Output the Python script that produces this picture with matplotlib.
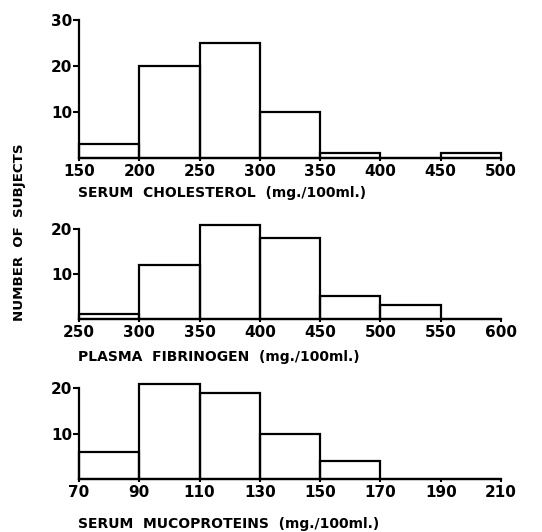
import matplotlib
matplotlib.use("Agg")
import matplotlib.pyplot as plt
import numpy as np

plt.rcParams['font.family'] = ['DejaVu Sans']
plt.rcParams['font.weight'] = 'bold'

# Data
chol_edges = [150, 200, 250, 300, 350, 400, 450, 500]
chol_counts = [3, 20, 25, 10, 1, 0, 1]
fib_edges = [250, 300, 350, 400, 450, 500, 550, 600]
fib_counts = [1, 12, 21, 18, 5, 3, 0]
muco_edges = [70, 90, 110, 130, 150, 170, 190, 210]
muco_counts = [6, 21, 19, 10, 4, 0, 0]

chol_label = "SERUM  CHOLESTEROL  (mg./100ml.)"
fib_label = "PLASMA  FIBRINOGEN  (mg./100ml.)"
muco_label = "SERUM  MUCOPROTEINS  (mg./100ml.)"
ylabel = "NUMBER  OF  SUBJECTS"

W, H = 542, 532
fig = plt.figure(figsize=(W / 100, H / 100), dpi=100)

def rect(bottom_px, top_px):
    return [79 / W, (H - bottom_px) / H, 422 / W, (bottom_px - top_px) / H]

panels = [
    (chol_edges, chol_counts, [10, 20, 30], 30, rect(158, 20), 30),
    (fib_edges, fib_counts, [10, 20], 22, rect(318.5, 318.5 - 22 * 4.475), 20),
    (muco_edges, muco_counts, [10, 20], 22, rect(479, 479 - 22 * 4.535), 20),
]
axes = []
for edges, counts, yt, ytop, r, sbound in panels:
    ax = fig.add_axes(r)
    e = np.array(edges)
    ax.bar(e[:-1], counts, width=np.diff(e), align='edge', fill=False,
           edgecolor='black', linewidth=1.6, clip_on=False)
    ax.set_xlim(e[0], e[-1])
    ax.set_ylim(0, ytop)
    for s in ['top', 'right']:
        ax.spines[s].set_visible(False)
    ax.spines['left'].set_bounds(0, sbound)
    ax.spines['left'].set_linewidth(1.6)
    ax.spines['bottom'].set_linewidth(1.6)
    ax.set_yticks(yt)
    ax.set_yticklabels([str(v) for v in yt], fontsize=11, fontweight='bold')
    ax.set_xticks(e)
    ax.set_xticklabels([str(v) for v in e], fontsize=11, fontweight='bold')
    ax.tick_params(axis='y', length=4, width=1.5, pad=1)
    ax.tick_params(axis='x', length=2, width=1.5, pad=2.5)
    ax.patch.set_visible(False)
    axes.append(ax)

fig.text(78 / W, 1 - 193 / H, chol_label, fontsize=10, fontweight='bold', va='center', ha='left')
fig.text(78 / W, 1 - 357 / H, fib_label, fontsize=10, fontweight='bold', va='center', ha='left')
fig.text(78 / W, 1 - 524 / H, muco_label, fontsize=10, fontweight='bold', va='center', ha='left')
fig.text(20 / W, 1 - 232 / H, ylabel, fontsize=9.6, fontweight='bold', va='center', ha='center', rotation=90)

fig.savefig("out.png", dpi=100, facecolor='white')
